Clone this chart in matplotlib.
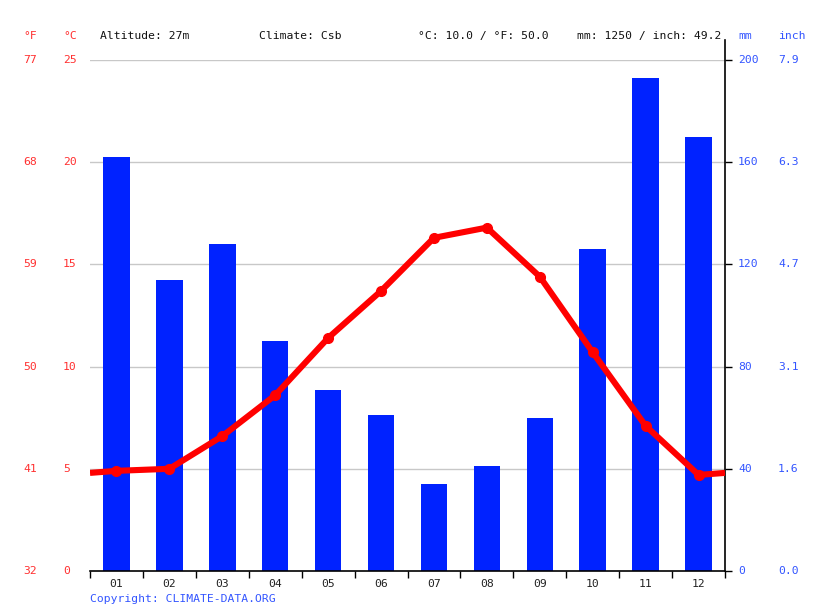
import matplotlib
matplotlib.use("Agg")
import matplotlib.pyplot as plt
from matplotlib.lines import Line2D
import matplotlib.transforms as mtransforms

months = ["01", "02", "03", "04", "05", "06", "07", "08", "09", "10", "11", "12"]
precip_mm = [162, 114, 128, 90, 71, 61, 34, 41, 60, 126, 193, 170]
temp_c = [4.9, 5.0, 6.6, 8.6, 11.4, 13.7, 16.3, 16.8, 14.4, 10.7, 7.1, 4.7]
c_ticks = [0, 5, 10, 15, 20, 25]
f_labels = ["32", "41", "50", "59", "68", "77"]
mm_ticks = [0, 40, 80, 120, 160, 200]
inch_labels = ["0.0", "1.6", "3.1", "4.7", "6.3", "7.9"]
header = [("Altitude: 27m", 100), ("Climate: Csb", 259),
          ("°C: 10.0 / °F: 50.0", 418), ("mm: 1250 / inch: 49.2", 577)]

W, H = 815, 611
RED = "#ff0000"
RED_T = "#ff3030"
BLUE = "#0022ff"
BLUE_T = "#3355ff"
FONT = "DejaVu Sans Mono"
FS = 8.2

fig = plt.figure(figsize=(W / 100, H / 100), dpi=100)
L, R, T, B = 90, 725, 60, 571
axb = fig.add_axes([L / W, 1 - B / H, (R - L) / W, (B - T) / H])
axt = axb.twinx()
axb.set_zorder(1)
axt.set_zorder(2)
axb.patch.set_visible(False)
axt.patch.set_visible(False)

# grid lines (drawn on precipitation axis, behind the bars)
axb.set_ylim(0, 200)
axb.set_xlim(0, 12)
for m in mm_ticks[1:]:
    axb.axhline(m, color="#c8c8c8", lw=1, zorder=0)

# bars (precipitation)
xc = [i + 0.5 for i in range(12)]
axb.bar(xc, precip_mm, width=0.5, color=BLUE, zorder=2)

# temperature line with wrap-around ends
edge = (temp_c[-1] + temp_c[0]) / 2
axt.plot([0] + xc + [12], [edge] + temp_c + [edge], color=RED, lw=4.4,
         solid_capstyle="butt", solid_joinstyle="round", zorder=3)
axt.plot(xc, temp_c, "o", color=RED, ms=7, zorder=4)
axt.set_ylim(0, 25)

# spines
for ax in (axb, axt):
    for s in ("top", "left", "right", "bottom"):
        ax.spines[s].set_visible(False)
axb.spines["bottom"].set_visible(True)
axb.spines["bottom"].set_color("black")
axb.spines["bottom"].set_linewidth(1.2)

# right spine extended above plot
fig.add_artist(Line2D([R / W, R / W], [1 - B / H, 1 - 40 / H], color="black", lw=1.2))

# ticks
axb.set_xticks(range(13))
axb.set_xticklabels([])
axb.set_xticks(xc, minor=True)
axb.set_xticklabels(months, minor=True, fontfamily=FONT, fontsize=FS, color="#222222")
axb.tick_params(axis="x", which="major", direction="out", length=5, width=1, color="black")
axb.tick_params(axis="x", which="minor", length=0, pad=6)
axb.yaxis.tick_right()
axb.set_yticks(mm_ticks)
axb.set_yticklabels([])
axb.tick_params(axis="y", direction="out", length=5, width=1, color="black")
axt.set_yticks([])

# y labels via blended transforms
trc = mtransforms.blended_transform_factory(fig.transFigure, axt.transData)
trm = mtransforms.blended_transform_factory(fig.transFigure, axb.transData)
for c, f in zip(c_ticks, f_labels):
    axt.text(23 / W, c, f, transform=trc, ha="left", va="center", color=RED_T,
             fontfamily=FONT, fontsize=FS, clip_on=False)
    axt.text(63 / W, c, str(c), transform=trc, ha="left", va="center", color=RED_T,
             fontfamily=FONT, fontsize=FS, clip_on=False)
for m, inch in zip(mm_ticks, inch_labels):
    axb.text(738 / W, m, str(m), transform=trm, ha="left", va="center", color=BLUE_T,
             fontfamily=FONT, fontsize=FS, clip_on=False)
    axb.text(778 / W, m, inch, transform=trm, ha="left", va="center", color=BLUE_T,
             fontfamily=FONT, fontsize=FS, clip_on=False)

# unit labels and header
ytop = 1 - 36 / H
fig.text(23 / W, ytop, "°F", color=RED_T, fontfamily=FONT, fontsize=FS, ha="left", va="center")
fig.text(63 / W, ytop, "°C", color=RED_T, fontfamily=FONT, fontsize=FS, ha="left", va="center")
fig.text(738 / W, ytop, "mm", color=BLUE_T, fontfamily=FONT, fontsize=FS, ha="left", va="center")
fig.text(778 / W, ytop, "inch", color=BLUE_T, fontfamily=FONT, fontsize=FS, ha="left", va="center")
for txt, x in header:
    fig.text(x / W, ytop, txt, color="#111111", fontfamily=FONT, fontsize=FS, ha="left", va="center")

fig.text(90 / W, 1 - 599 / H, "Copyright: CLIMATE-DATA.ORG", color=BLUE_T,
         fontfamily=FONT, fontsize=FS, ha="left", va="center")

fig.savefig("out.png", dpi=100)
